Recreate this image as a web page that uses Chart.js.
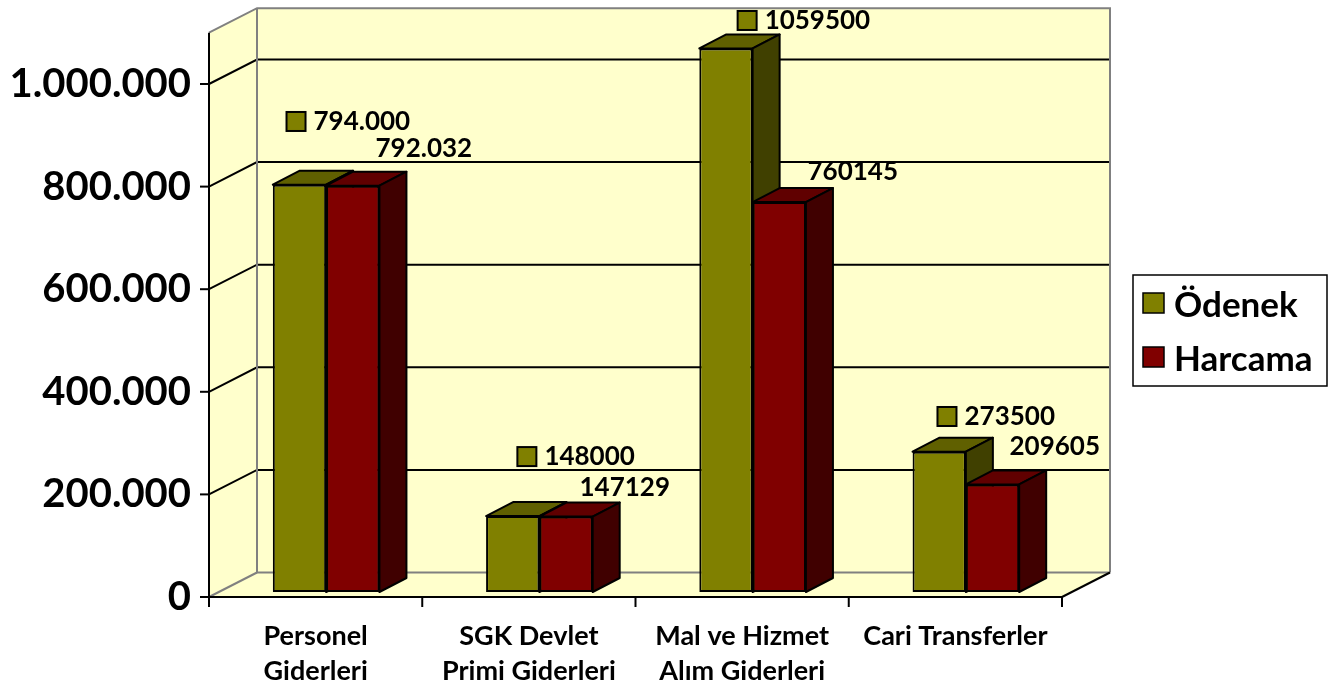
<!DOCTYPE html>
<html>
<head>
<meta charset="utf-8">
<script src="https://cdn.jsdelivr.net/npm/chart.js@4.4.1/dist/chart.umd.min.js"></script>
<style>
  html, body { margin: 0; padding: 0; background: #fff; }
  canvas { display: block; }
</style>
</head>
<body>
<canvas id="myChart" width="1340" height="693"></canvas>
<script>
const categories = [["Personel", "Giderleri"], ["SGK Devlet", "Primi Giderleri"], ["Mal ve Hizmet", "Alım Giderleri"], "Cari Transferler"];
const odenek = [794000, 148000, 1059500, 273500];
const harcama = [792032, 147129, 760145, 209605];
const odenekLabels = ["794.000", "148000", "1059500", "273500"];
const harcamaLabels = ["792.032", "147129", "760145", "209605"];
const yTicks = [0, 200000, 400000, 600000, 800000, 1000000];
const seriesNames = ["Ödenek", "Harcama"];

// fake 3d
const depthX = 48, depthY = -24.5;      // depth of the walls
const shiftX = 10.5, shiftY = -5;       // bars stand a bit behind the front edge
const barDX = 27, barDY = -14;          // depth of a bar

const faces = [
  { front: "#808000", top: "#606000", side: "#404000" },
  { front: "#800000", top: "#600000", side: "#400000" }
];

// where the value labels sit: [x from bar right edge, baseline from bar top]
const odenekNudge = [[-12.6, -54.7], [5, -51], [12, -19.5], [-1.4, -26.7]];
const harcamaNudge = [[-3.9, -28.7], [-13.2, -20.5], [1.6, -22], [-9.7, -29.5]];

function fmt(v) {
  return String(v).replace(/\B(?=(\d{3})+(?!\d))/g, ".");
}

function poly(ctx, pts, fill) {
  ctx.beginPath();
  ctx.moveTo(pts[0][0], pts[0][1]);
  for (let i = 1; i < pts.length; i++) ctx.lineTo(pts[i][0], pts[i][1]);
  ctx.closePath();
  ctx.fillStyle = fill;
  ctx.fill();
  ctx.stroke();
}

function line(ctx, pts, color, w) {
  ctx.beginPath();
  ctx.moveTo(pts[0][0], pts[0][1]);
  for (let i = 1; i < pts.length; i++) ctx.lineTo(pts[i][0], pts[i][1]);
  ctx.strokeStyle = color;
  ctx.lineWidth = w;
  ctx.stroke();
}

function barSides(ctx, bar, c) {
  const p = bar.getProps(["x", "y", "base", "width"], true);
  const l = p.x - p.width / 2, r = p.x + p.width / 2;
  const t = Math.min(p.y, p.base), b = Math.max(p.y, p.base);
  ctx.strokeStyle = "#000";
  ctx.lineWidth = 2;
  ctx.lineJoin = "round";
  poly(ctx, [[l, t], [l + barDX, t + barDY], [r + barDX, t + barDY], [r, t]], c.top);
  poly(ctx, [[r, t], [r + barDX, t + barDY], [r + barDX, b + barDY], [r, b]], c.side);
}

const cube = {
  id: "cube",
  beforeDraw(chart) {
    const ctx = chart.ctx, a = chart.chartArea, ys = chart.scales.y;
    ctx.save();
    ctx.fillStyle = "#ffffcc";
    ctx.beginPath();
    ctx.moveTo(a.left, a.top);
    ctx.lineTo(a.left + depthX, a.top + depthY);
    ctx.lineTo(a.right + depthX, a.top + depthY);
    ctx.lineTo(a.right + depthX, a.bottom + depthY);
    ctx.lineTo(a.right, a.bottom);
    ctx.lineTo(a.left, a.bottom);
    ctx.closePath();
    ctx.fill();

    yTicks.forEach(v => {
      if (v === 0) return;
      const py = ys.getPixelForValue(v);
      line(ctx, [[a.left, py], [a.left + depthX, py + depthY], [a.right + depthX, py + depthY]], "#000", 2);
    });

    line(ctx, [[a.left, a.top], [a.left + depthX, a.top + depthY], [a.right + depthX, a.top + depthY], [a.right + depthX, a.bottom + depthY]], "#808080", 2);
    line(ctx, [[a.left + depthX, a.top + depthY], [a.left + depthX, a.bottom + depthY], [a.right + depthX, a.bottom + depthY]], "#808080", 2);
    line(ctx, [[a.left, a.bottom], [a.left + depthX, a.bottom + depthY]], "#808080", 2);
    line(ctx, [[a.right, a.bottom], [a.right + depthX, a.bottom + depthY]], "#000", 2);
    ctx.restore();
  },
  beforeDatasetsDraw(chart) {
    chart.ctx.save();
    chart.ctx.translate(shiftX, shiftY);
  },
  afterDatasetsDraw(chart) {
    const ctx = chart.ctx;
    const m0 = chart.getDatasetMeta(0).data;
    const m1 = chart.getDatasetMeta(1).data;
    m0.forEach((b0, i) => {
      barSides(ctx, b0, faces[0]);
      m1[i].draw(ctx);
      barSides(ctx, m1[i], faces[1]);
    });
    ctx.restore();

    // axes
    const a = chart.chartArea, ys = chart.scales.y;
    ctx.save();
    line(ctx, [[a.left, a.top], [a.left, a.bottom + 10]], "#000", 2);
    line(ctx, [[a.left, a.bottom], [a.right, a.bottom]], "#000", 2);
    yTicks.forEach(v => {
      const py = ys.getPixelForValue(v);
      line(ctx, [[a.left - 9, py], [a.left, py]], "#000", 2);
    });
    const step = (a.right - a.left) / categories.length;
    for (let i = 0; i <= categories.length; i++) {
      const px = a.left + i * step;
      line(ctx, [[px, a.bottom], [px, a.bottom + 10]], "#000", 2);
    }
    ctx.restore();
  },
  afterDraw(chart) {
    const ctx = chart.ctx;
    const m0 = chart.getDatasetMeta(0).data;
    const m1 = chart.getDatasetMeta(1).data;
    ctx.save();
    ctx.font = "bold 26px Lato";
    ctx.textAlign = "left";
    ctx.textBaseline = "alphabetic";
    ctx.lineWidth = 2;
    ctx.strokeStyle = "#000";
    m0.forEach((b, i) => {
      const tx = b.x + b.width / 2 + shiftX + odenekNudge[i][0];
      const ty = b.y + shiftY + odenekNudge[i][1];
      ctx.fillStyle = faces[0].front;
      ctx.fillRect(tx - 27, ty - 18, 19, 19);
      ctx.strokeRect(tx - 27, ty - 18, 19, 19);
      ctx.fillStyle = "#000";
      ctx.fillText(odenekLabels[i], tx, ty);
    });
    m1.forEach((b, i) => {
      const tx = b.x + b.width / 2 + shiftX + harcamaNudge[i][0];
      const ty = b.y + shiftY + harcamaNudge[i][1];
      ctx.fillStyle = "#000";
      ctx.fillText(harcamaLabels[i], tx, ty);
    });

    // legend
    ctx.lineWidth = 1.5;
    ctx.fillStyle = "#fff";
    ctx.fillRect(1133, 275, 194, 111);
    ctx.strokeRect(1133, 275, 194, 111);
    ctx.font = "bold 35px Lato";
    chart.data.datasets.forEach((ds, k) => {
      const yy = 293 + k * 54;
      ctx.fillStyle = ds.backgroundColor;
      ctx.fillRect(1143, yy, 21, 20);
      ctx.strokeRect(1143, yy, 21, 20);
      ctx.fillStyle = "#000";
      ctx.fillText(ds.label, 1174, yy + 24);
    });
    ctx.restore();
  }
};

new Chart("myChart", {
  type: "bar",
  data: {
    labels: categories,
    datasets: [{
      label: seriesNames[0],
      data: odenek,
      backgroundColor: faces[0].front,
      borderColor: "#000",
      borderWidth: 2,
      borderSkipped: false,
      clip: false
    }, {
      label: seriesNames[1],
      data: harcama,
      backgroundColor: faces[1].front,
      borderColor: "#000",
      borderWidth: 2,
      borderSkipped: false,
      clip: false
    }]
  },
  options: {
    responsive: false,
    animation: false,
    layout: { padding: { top: 32.7, right: 278, left: 0, bottom: 0 } },
    categoryPercentage: 0.5,
    barPercentage: 1,
    plugins: {
      legend: { display: false },
      tooltip: { enabled: false }
    },
    scales: {
      x: {
        grid: { display: false, drawTicks: false },
        border: { display: false },
        ticks: {
          color: "#000",
          font: { family: "Lato", weight: "bold", size: 27, lineHeight: 1.28 },
          padding: 22,
          maxRotation: 0,
          autoSkip: false
        },
        afterFit(s) { s.height = 96; s.paddingLeft = 0; s.paddingRight = 0; }
      },
      y: {
        min: 0,
        max: 1100000,
        grid: { display: false, drawTicks: false },
        border: { display: false },
        afterBuildTicks(s) { s.ticks = yTicks.map(v => ({ value: v })); },
        ticks: {
          color: "#000",
          font: { family: "Lato", weight: "bold", size: 40 },
          padding: 18,
          callback: v => fmt(v)
        },
        afterFit(s) { s.width = 209; s.paddingTop = 0; s.paddingBottom = 0; }
      }
    }
  },
  plugins: [cube]
});
</script>
</body>
</html>
